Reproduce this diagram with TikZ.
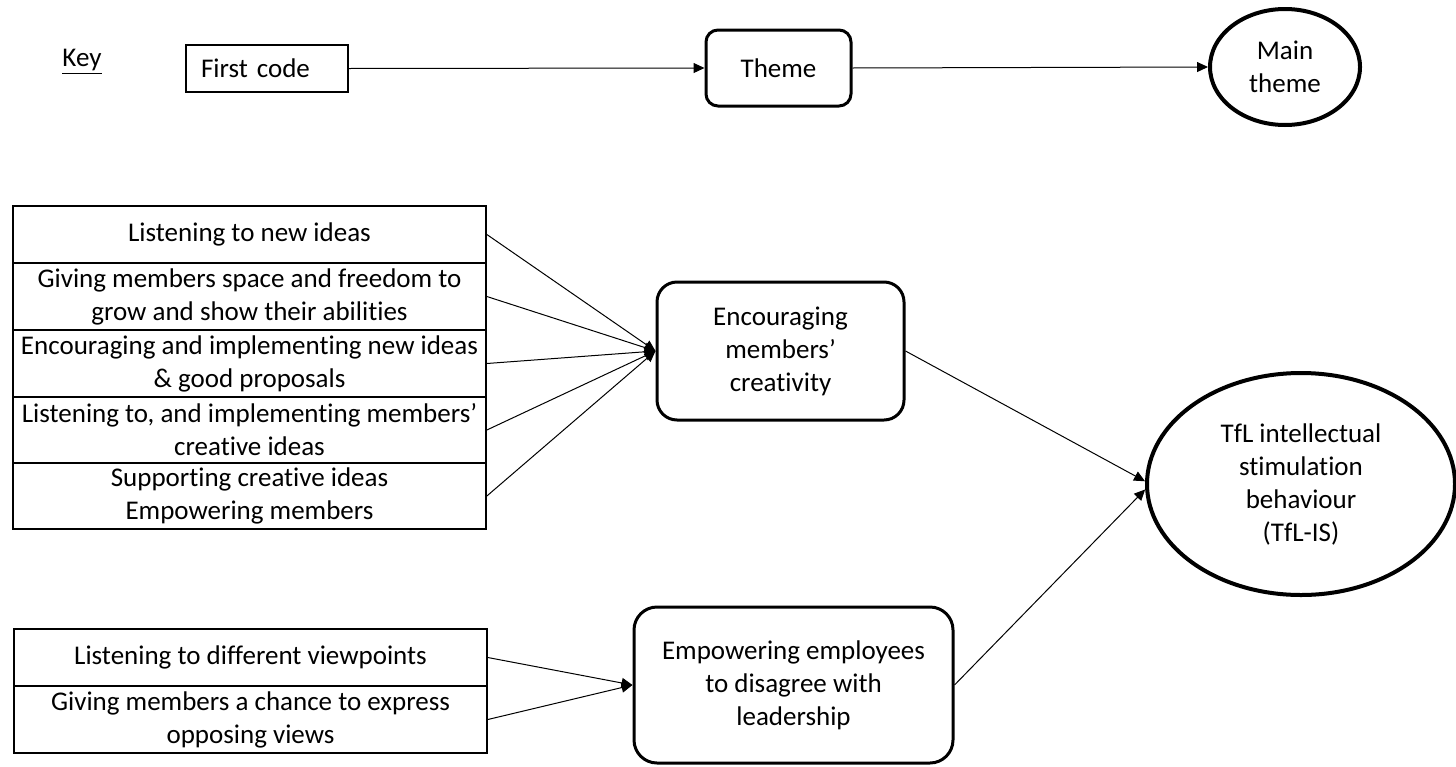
\documentclass[tikz,border=0pt]{standalone}
\usepackage{fontspec}
\setmainfont{Carlito}[Ligatures=NoCommon]
\usetikzlibrary{arrows.meta,shapes.geometric}
\begin{document}
\begin{tikzpicture}[x=0.5pt,y=-0.5pt,
  font=\fontsize{13.5}{16.5}\selectfont,
  codebox/.style={draw,line width=0.85pt,inner sep=0pt,align=center},
  themebox/.style={draw,line width=1.5pt,rounded corners=#1,inner sep=0pt,align=center},
  themebox/.default=7pt,
  mainellipse/.style={draw,ellipse,line width=2pt,inner sep=0pt,align=center},
  link/.style={line width=0.5pt,-{Triangle[length=5.5pt,width=5pt]}},
  row/.style={codebox,minimum width=236.5pt},
]
\useasboundingbox (0,0) rectangle (1456,766);

% ---- key ----
\node (key) at (82,62) {\underline{Key}};
\node[codebox,minimum width=81pt,minimum height=23.5pt,text width=66pt,align=left]
  (kcode) at (267,68.5) {First code};
\node[themebox=6pt,minimum width=72.5pt,minimum height=38pt] (ktheme) at (778.5,68) {Theme};
\node[mainellipse,minimum width=75pt,minimum height=58pt] (kmain) at (1285,67) {Main\\theme};
\draw[link] (kcode.east) -- (ktheme.west);
\draw[link] (ktheme.east) -- (kmain.west);

% ---- first codes, creativity ----
\node[row,minimum height=28.5pt] (c1) at (249.5,234.5) {Listening to new ideas};
\node[row,minimum height=33.5pt] (c2) at (249.5,296.5) {Giving members space and freedom to\\grow and show their abilities};
\node[row,minimum height=33.5pt] (c3) at (249.5,363.5) {Encouraging and implementing new ideas\\\& good proposals};
\node[row,minimum height=33pt] (c4) at (249.5,430) {Listening to, and implementing members’\\creative ideas};
\node[row,minimum height=33pt] (c5) at (249.5,496) {Supporting creative ideas\\Empowering members};

\node[themebox=10pt,minimum width=123.5pt,minimum height=69pt] (enc) at (780.5,351)
  {Encouraging\\members’\\creativity};

\foreach \r in {c1,c2,c3,c4,c5}
  \draw[link] (\r.east) -- (enc.west);

% ---- first codes, disagreement ----
\node[row,minimum height=28.5pt] (d1) at (250.5,657.5) {Listening to different viewpoints};
\node[row,minimum height=33.5pt] (d2) at (250.5,719.5) {Giving members a chance to express\\opposing views};

\node[themebox=11.5pt,minimum width=159.5pt,minimum height=78pt] (emp) at (793.5,685)
  {Empowering employees\\to disagree with\\leadership};

\draw[link] (d1.east) -- (emp.west);
\draw[link] (d2.east) -- (emp.west);

% ---- main theme ----
\node[mainellipse,minimum width=154pt,minimum height=111pt] (tfl) at (1301,484)
  {TfL intellectual\\stimulation\\behaviour\\(TfL-IS)};

\draw[link] (enc.east) -- (tfl.179);
\draw[link] (emp.east) -- (tfl.182);
\end{tikzpicture}
\end{document}
